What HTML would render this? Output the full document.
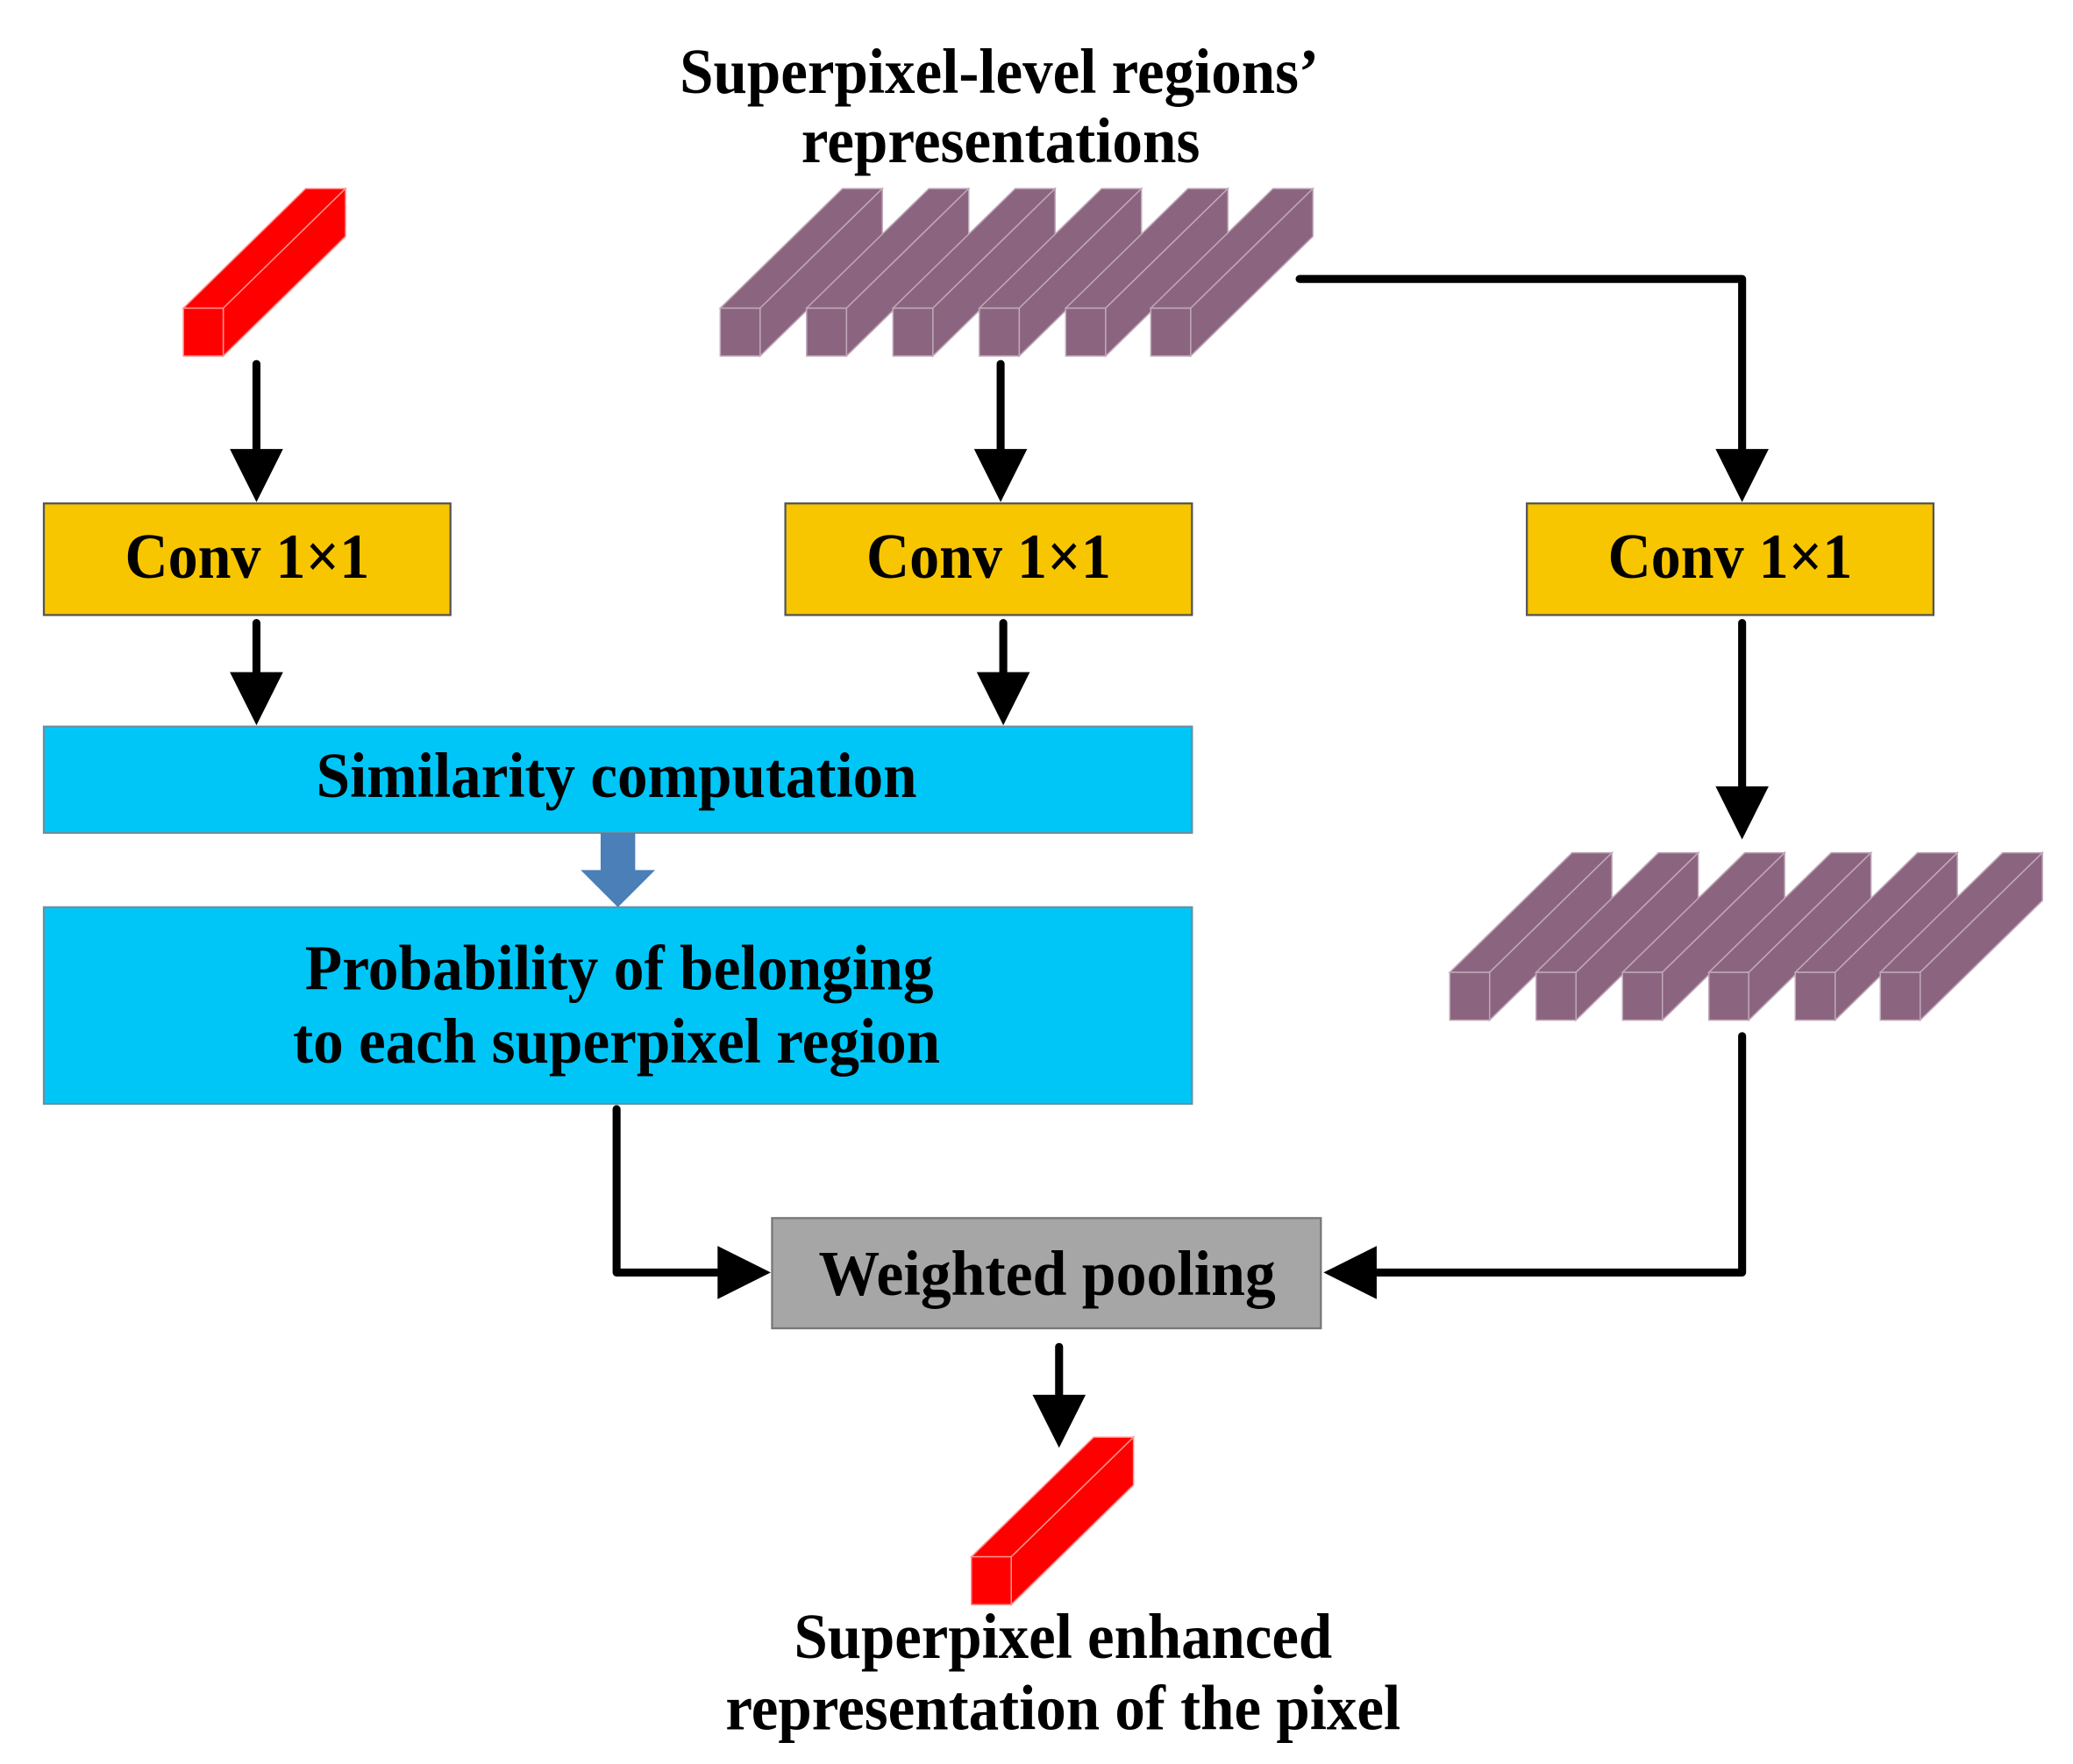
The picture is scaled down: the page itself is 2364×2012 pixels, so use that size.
<!DOCTYPE html>
<html><head><meta charset="utf-8"><style>html,body{margin:0;padding:0;background:#fff}svg{display:block}</style></head>
<body>
<svg width="2364" height="2012" viewBox="0 0 1560 1328" preserveAspectRatio="none" xmlns="http://www.w3.org/2000/svg">
<defs>
<marker id="ah" markerWidth="8" markerHeight="8" refX="0" refY="4" orient="auto" markerUnits="userSpaceOnUse"></marker>
<g id="red">
  <polygon points="0,90 30,90 122,0 92,0" fill="#ff0000" stroke="#ff9090" stroke-width="1"/>
  <polygon points="30,90 122,0 122,36 30,126" fill="#ff0000" stroke="#ff9090" stroke-width="1"/>
  <rect x="0" y="90" width="30" height="36" fill="#ff0000" stroke="#ff9090" stroke-width="1"/>
</g>
<g id="pur">
  <polygon points="0,90 30,90 122,0 92,0" fill="#8b6580" stroke="#c0a8b8" stroke-width="1"/>
  <polygon points="30,90 122,0 122,36 30,126" fill="#8b6580" stroke="#c0a8b8" stroke-width="1"/>
  <rect x="0" y="90" width="30" height="36" fill="#8b6580" stroke="#c0a8b8" stroke-width="1"/>
</g>
</defs>
<g font-family="Liberation Serif, serif" font-weight="bold" fill="#000" text-anchor="middle">
<text x="752" y="70" font-size="48" textLength="481" lengthAdjust="spacingAndGlyphs">Superpixel-level regions’</text>
<text x="753" y="122" font-size="48" textLength="300" lengthAdjust="spacingAndGlyphs">representations</text>
</g>

<use href="#red" x="138" y="142"/>
<use href="#pur" x="542" y="142"/>
<use href="#pur" x="607" y="142"/>
<use href="#pur" x="672" y="142"/>
<use href="#pur" x="737" y="142"/>
<use href="#pur" x="802" y="142"/>
<use href="#pur" x="866" y="142"/>

<use href="#pur" x="1091" y="642"/>
<use href="#pur" x="1156" y="642"/>
<use href="#pur" x="1221" y="642"/>
<use href="#pur" x="1286" y="642"/>
<use href="#pur" x="1351" y="642"/>
<use href="#pur" x="1415" y="642"/>

<use href="#red" x="731" y="1082"/>

<g stroke="#000" stroke-width="6" fill="none" stroke-linecap="round" stroke-linejoin="round">
<line x1="193" y1="274" x2="193" y2="345"/>
<line x1="753" y1="274" x2="753" y2="345"/>
<polyline points="978,210 1311,210 1311,345"/>
<line x1="193" y1="469" x2="193" y2="512"/>
<line x1="755" y1="469" x2="755" y2="512"/>
<line x1="1311" y1="469" x2="1311" y2="598"/>
<polyline points="464,835 464,958 545,958"/>
<polyline points="1311,780 1311,958 1032,958"/>
<line x1="797" y1="1014" x2="797" y2="1055"/>
</g>
<g fill="#000">
<polygon points="173,338 213,338 193,378"/>
<polygon points="733,338 773,338 753,378"/>
<polygon points="1291,338 1331,338 1311,378"/>
<polygon points="173,506 213,506 193,546"/>
<polygon points="735,506 775,506 755,546"/>
<polygon points="1291,592 1331,592 1311,632"/>
<polygon points="540,938 540,978 580,958"/>
<polygon points="1036,938 1036,978 996,958"/>
<polygon points="777,1050 817,1050 797,1090"/>
</g>

<g stroke="#555" stroke-width="1.5">
<rect x="33" y="379" width="306" height="84" fill="#f8c600"/>
<rect x="591" y="379" width="306" height="84" fill="#f8c600"/>
<rect x="1149" y="379" width="306" height="84" fill="#f8c600"/>
<rect x="33" y="547" width="864" height="80" fill="#00c6f8" stroke="#6a8fa0"/>
<rect x="33" y="683" width="864" height="148" fill="#00c6f8" stroke="#6a8fa0"/>
<rect x="581" y="917" width="413" height="83" fill="#a6a6a6" stroke="#777"/>
</g>
<polygon points="452,627 478,627 478,655 493,655 465,683 437,655 452,655" fill="#4a7fb8"/>

<g font-family="Liberation Serif, serif" font-weight="bold" fill="#000" text-anchor="middle">
<text x="186" y="435" font-size="48" textLength="184" lengthAdjust="spacingAndGlyphs">Conv 1×1</text>
<text x="744" y="435" font-size="48" textLength="184" lengthAdjust="spacingAndGlyphs">Conv 1×1</text>
<text x="1302" y="435" font-size="48" textLength="184" lengthAdjust="spacingAndGlyphs">Conv 1×1</text>
<text x="464" y="600" font-size="48" textLength="452" lengthAdjust="spacingAndGlyphs">Similarity computation</text>
<text x="466" y="745" font-size="48" textLength="473" lengthAdjust="spacingAndGlyphs">Probability of belonging</text>
<text x="464" y="800" font-size="48" textLength="487" lengthAdjust="spacingAndGlyphs">to each superpixel region</text>
<text x="788" y="975" font-size="48" textLength="344" lengthAdjust="spacingAndGlyphs">Weighted pooling</text>
<text x="800" y="1248" font-size="48" textLength="405" lengthAdjust="spacingAndGlyphs">Superpixel enhanced</text>
<text x="800" y="1302" font-size="48" textLength="508" lengthAdjust="spacingAndGlyphs">representation of the pixel</text>
</g>
</svg>
</body></html>
